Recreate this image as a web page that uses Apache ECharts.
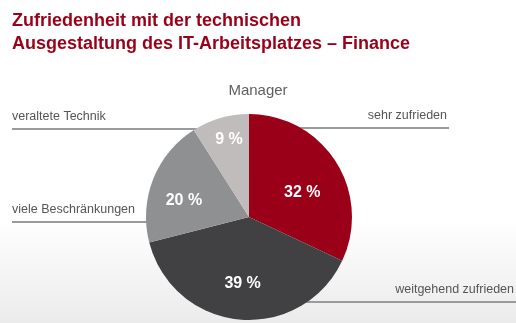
<!DOCTYPE html>
<html>
<head>
<meta charset="utf-8">
<style>
html,body{margin:0;padding:0;background:#fff;}
#chart{width:516px;height:323px;}
</style>
<script src="https://cdn.jsdelivr.net/npm/echarts@6/dist/echarts.min.js"></script>
</head>
<body>
<div id="chart"></div>
<script>
// ---- data ----
var categories = ['sehr zufrieden', 'weitgehend zufrieden', 'viele Beschränkungen', 'veraltete Technik'];
var values = [32, 39, 20, 9];
var colors = ['#9b0019', '#414143', '#8f9092', '#c1bcbc'];
var titleText = 'Zufriedenheit mit der technischen\nAusgestaltung des IT-Arbeitsplatzes – Finance';
var groupName = 'Manager';

// ---- layout (not data) ----
var FONT = "'Liberation Sans', Arial, sans-serif";
var CX = 249, CY = 217, R = 103;
var nameLineY = [128, 302, 222, 129];      // y of each name's guide line
var nameSide = ['right', 'right', 'left', 'left'];
var nameEdgeX = [449, 516, 12, 12];         // outer end of guide line
var lineInset = [14, 11, 20, 9];            // how far the line reaches into the pie
var pctOffset = [[-4, 12], [0, -1], [-2, 9], [-1, -12]];

var chart = echarts.init(document.getElementById('chart'));

var mainData = categories.map(function (c, i) {
  return { name: c, value: values[i], itemStyle: { color: colors[i] } };
});
var pctData = categories.map(function (c, i) {
  return { name: c, value: values[i] };
});

chart.setOption({
  animation: false,
  backgroundColor: {
    type: 'linear', x: 0, y: 0, x2: 0, y2: 1,
    colorStops: [
      { offset: 0, color: '#ffffff' },
      { offset: 0.68, color: '#ffffff' },
      { offset: 1, color: '#ebebeb' }
    ]
  },
  title: [
    {
      text: titleText,
      left: 7, top: 5,
      textStyle: { fontFamily: FONT, fontSize: 18, fontWeight: 'bold', color: '#9b0019', lineHeight: 23 }
    },
    {
      text: groupName,
      left: 253, top: 78, textAlign: 'center',
      textStyle: { fontFamily: FONT, fontSize: 15, fontWeight: 'normal', color: '#5f5f5f' }
    }
  ],
  series: [
    {
      type: 'pie',
      center: [CX, CY],
      radius: [0, R],
      startAngle: 90,
      clockwise: true,
      silent: true,
      avoidLabelOverlap: false,
      data: mainData,
      label: {
        show: true,
        position: 'outside',
        formatter: '{b}',
        fontFamily: FONT,
        fontSize: 12.5,
        color: '#555555'
      },
      labelLine: {
        show: true,
        length: 10,
        length2: 10,
        lineStyle: { color: '#9a9a9a', width: 2 }
      },
      labelLayout: function (p) {
        var i = p.dataIndex;
        var y = nameLineY[i];
        var dy = y - CY;
        var half = Math.sqrt(Math.max(R * R - dy * dy, 0));
        var right = nameSide[i] === 'right';
        var innerX = right ? CX + half - lineInset[i] : CX - half + lineInset[i];
        var edge = nameEdgeX[i];
        return {
          x: right ? edge - 2 : edge,
          y: y - 12,
          align: right ? 'right' : 'left',
          verticalAlign: 'middle',
          labelLinePoints: [[innerX, y], [innerX, y], [edge, y]]
        };
      }
    },
    {
      type: 'pie',
      center: [CX, CY],
      radius: [0, R * 1.26],
      startAngle: 90,
      clockwise: true,
      silent: true,
      avoidLabelOverlap: false,
      itemStyle: { color: 'rgba(0,0,0,0)' },
      data: pctData,
      label: {
        show: true,
        position: 'inside',
        formatter: '{c} %',
        fontFamily: FONT,
        fontSize: 16,
        fontWeight: 'bold',
        color: '#ffffff'
      },
      labelLine: { show: false },
      labelLayout: function (p) {
        var o = pctOffset[p.dataIndex];
        return { dx: o[0], dy: o[1] };
      }
    }
  ]
});
</script>
</body>
</html>
